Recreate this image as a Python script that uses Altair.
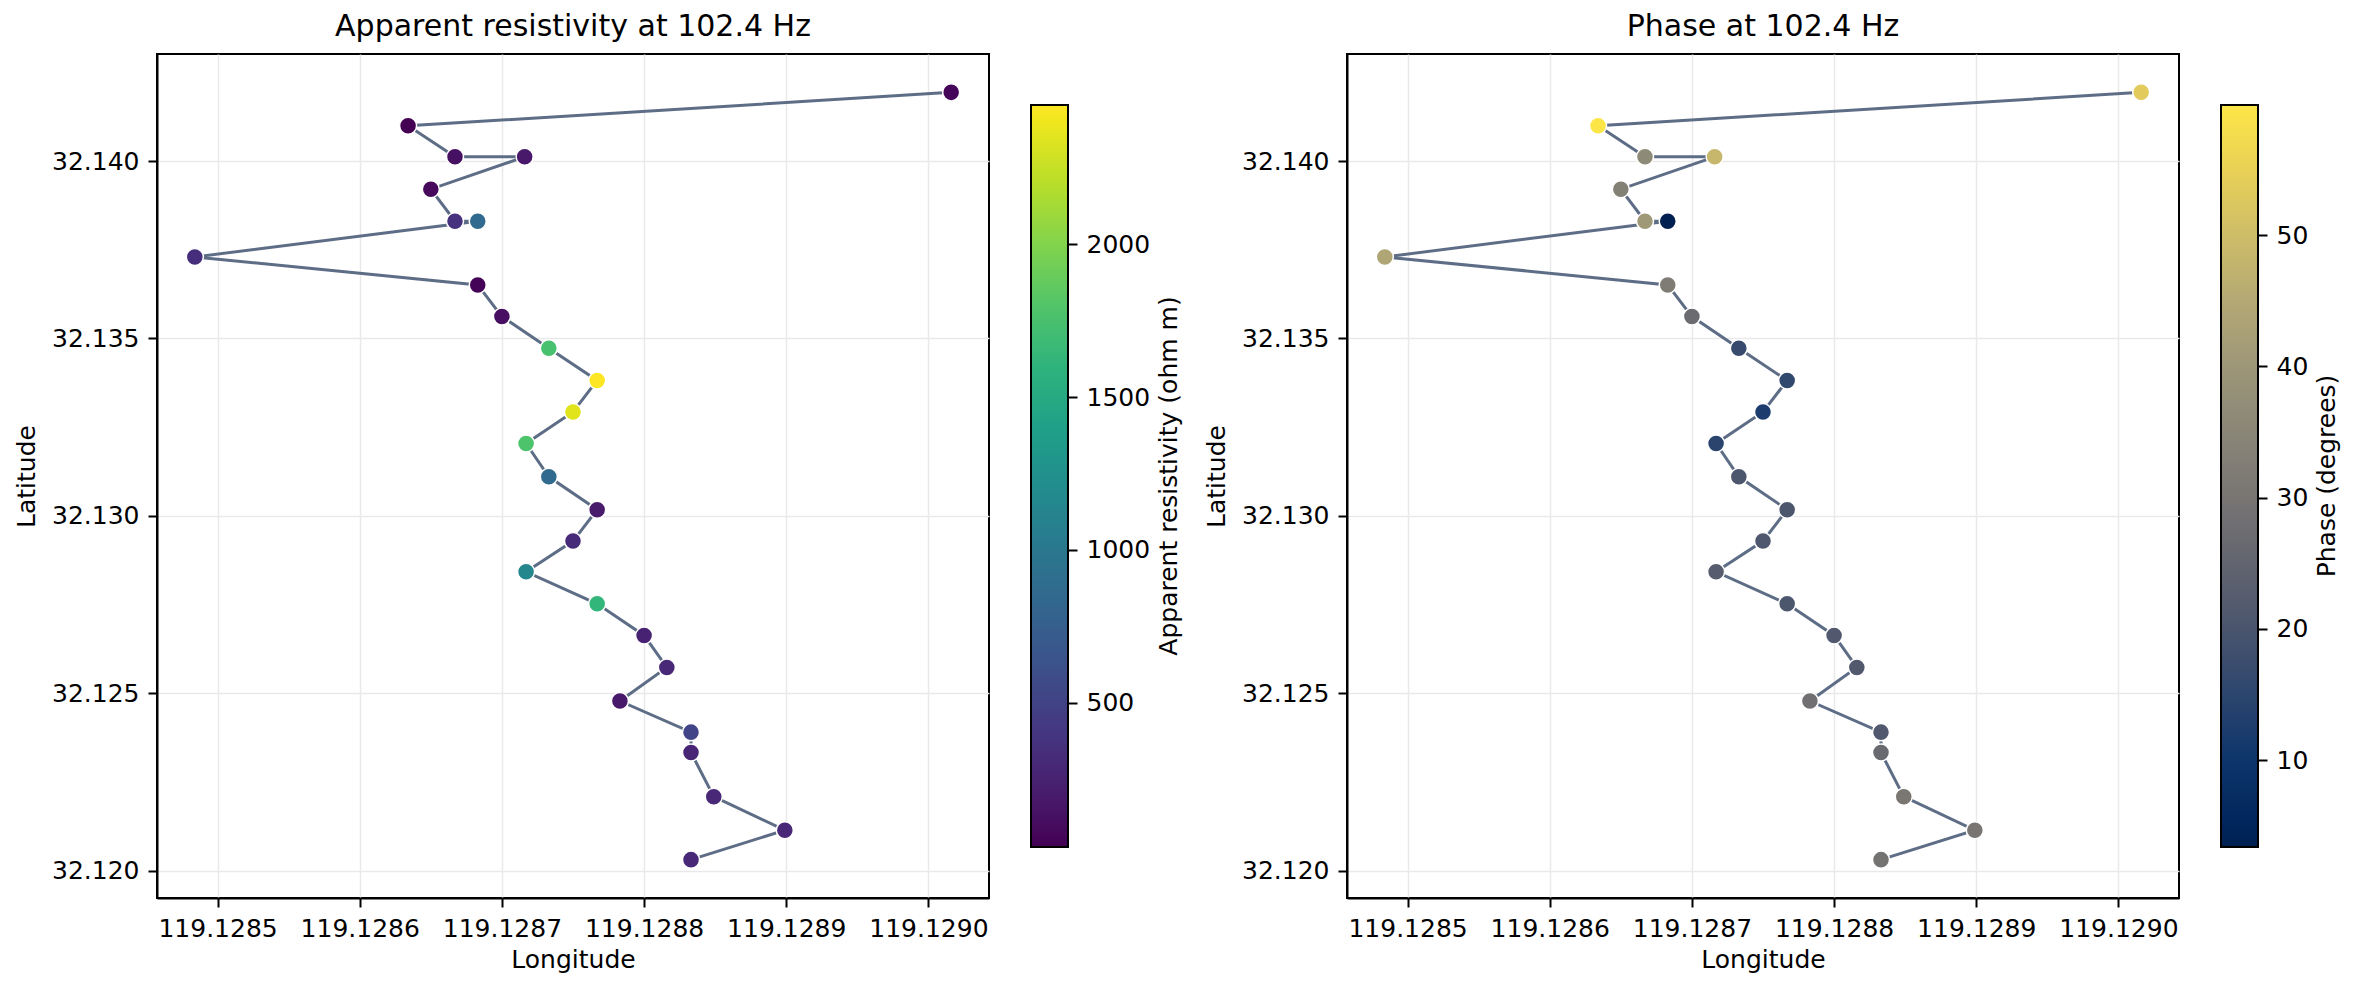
import altair as alt
import pandas as pd

# Station coordinates
longitude = [119.129016, 119.128634, 119.128667, 119.128716, 119.128650, 119.128667,
             119.128683, 119.128484, 119.128683, 119.128700, 119.128733, 119.128767,
             119.128750, 119.128717, 119.128733, 119.128767, 119.128750, 119.128717,
             119.128767, 119.128800, 119.128816, 119.128783, 119.128833, 119.128833,
             119.128849, 119.128899, 119.128833]
latitude = [32.141938, 32.140996, 32.140121, 32.140121, 32.139210, 32.138307,
            32.138307, 32.137300, 32.136511, 32.135619, 32.134725, 32.133817,
            32.132928, 32.132040, 32.131100, 32.130175, 32.129289, 32.128423,
            32.127520, 32.126629, 32.125726, 32.124781, 32.123904, 32.123329,
            32.122085, 32.121140, 32.120310]
# Apparent resistivity (ohm m) at 102.4 Hz
resistivity = [50, 27, 125, 175, 75, 370, 853, 343, 39, 110, 1752, 2456, 2347, 1776,
               853, 197, 318, 1144, 1630, 246, 294, 173, 513, 270, 294, 294, 294]
# Phase (degrees) at 102.4 Hz
phase = [53.7, 59.9, 36.2, 48.6, 33.3, 40.7, 3.4, 44.1, 32.2, 27.1, 17.0, 15.8, 12.4,
         14.7, 20.4, 20.4, 21.0, 22.6, 20.4, 21.5, 21.5, 28.3, 21.5, 26.5, 30.5, 30.0, 29.4]

lon_ticks = [119.1285, 119.1286, 119.1287, 119.1288, 119.1289, 119.1290]
lat_ticks = [32.120, 32.125, 32.130, 32.135, 32.140]
rho_ticks = [500, 1000, 1500, 2000]
phase_ticks = [10, 20, 30, 40, 50]

df = pd.DataFrame({
    "idx": list(range(len(longitude))),
    "lon": longitude,
    "lat": latitude,
    "rho": resistivity,
    "phase": phase,
})


def padded(vals, frac=0.05):
    lo, hi = min(vals), max(vals)
    m = (hi - lo) * frac
    return [lo - m, hi + m]


xdom = padded(longitude)
ydom = padded(latitude)

FONT = "DejaVu Sans"
LINE_COLOR = "#5e6d86"
W, H = 832, 844
CB_X, CB_Y, CB_LEN, CB_TH = W + 42, 51, 742, 37


def panel(field, vals, title, scheme, legend_title, ticks, label_x):
    base = alt.Chart(df)
    xscale = alt.Scale(domain=xdom, nice=False, zero=False)
    yscale = alt.Scale(domain=ydom, nice=False, zero=False)
    x = alt.X("lon:Q", scale=xscale,
              axis=alt.Axis(title="Longitude", values=lon_ticks, format=".4f",
                            labelOverlap=False, titlePadding=6))
    y = alt.Y("lat:Q", scale=yscale,
              axis=alt.Axis(title="Latitude", values=lat_ticks, format=".3f",
                            labelOverlap=False, titlePadding=12))
    line = base.mark_line(color=LINE_COLOR, strokeWidth=3).encode(
        x=x, y=y, order="idx:Q")
    pts = base.mark_circle(size=290, opacity=1, stroke="white", strokeWidth=1.5).encode(
        x=x,
        y=alt.Y("lat:Q", scale=yscale, axis=None),
        color=alt.Color(
            f"{field}:Q",
            scale=alt.Scale(scheme=scheme, domain=[min(vals), max(vals)], nice=False, zero=False),
            legend=alt.Legend(
                title=None, orient="none", legendX=CB_X, legendY=CB_Y,
                direction="vertical", gradientLength=CB_LEN, gradientThickness=CB_TH,
                gradientStrokeColor="black", gradientStrokeWidth=2,
                values=ticks, labelFontSize=1, labelOpacity=0, padding=0,
            ),
        ),
    )
    # colorbar ticks + labels through an axis sharing the colour range
    cb_axis = alt.Chart(pd.DataFrame({"v": ticks})).mark_point(opacity=0).encode(
        y=alt.Y("v:Q",
                scale=alt.Scale(domain=[min(vals), max(vals)], range=[CB_Y + CB_LEN, CB_Y],
                                nice=False, zero=False),
                axis=alt.Axis(orient="right", offset=CB_X + CB_TH - W, values=ticks,
                              format="d", domain=False, grid=False, title=None,
                              labelOverlap=False)),
    )
    cb_label = alt.Chart(pd.DataFrame({"t": [legend_title]})).mark_text(
        angle=270, align="center", baseline="middle", font=FONT, fontSize=25,
        color="black",
    ).encode(x=alt.value(label_x), y=alt.value(CB_Y + CB_LEN / 2), text="t:N")
    return alt.layer(line, pts, cb_axis, cb_label).resolve_scale(y="independent").properties(
        width=W, height=H,
        title=alt.TitleParams(title, anchor="middle"),
    )


left = panel("rho", resistivity, "Apparent resistivity at 102.4 Hz", "viridis",
             "Apparent resistivity (ohm m)", rho_ticks, 1012)
right = panel("phase", phase, "Phase at 102.4 Hz", "cividis",
              "Phase (degrees)", phase_ticks, 980)

chart = alt.hconcat(left, right, spacing=358, bounds="flush").resolve_scale(
    color="independent"
).properties(
    autosize=alt.AutoSizeParams(type="pad"),
    padding={"left": 5, "top": 3, "right": 5, "bottom": 5},
).configure_axis(
    labelFont=FONT, labelFontSize=25, labelColor="black", labelPadding=9,
    titleFont=FONT, titleFontSize=25, titleFontWeight="normal", titleColor="black",
    domainColor="black", domainWidth=2,
    tickColor="black", tickWidth=2, tickSize=9,
    gridColor="#e9e9e9", gridWidth=1.5,
).configure_view(
    stroke="black", strokeWidth=2,
).configure_title(
    font=FONT, fontSize=30, fontWeight="normal", color="black", offset=12,
)

chart.save("out.html", embed_options={"renderer": "svg", "actions": False})
